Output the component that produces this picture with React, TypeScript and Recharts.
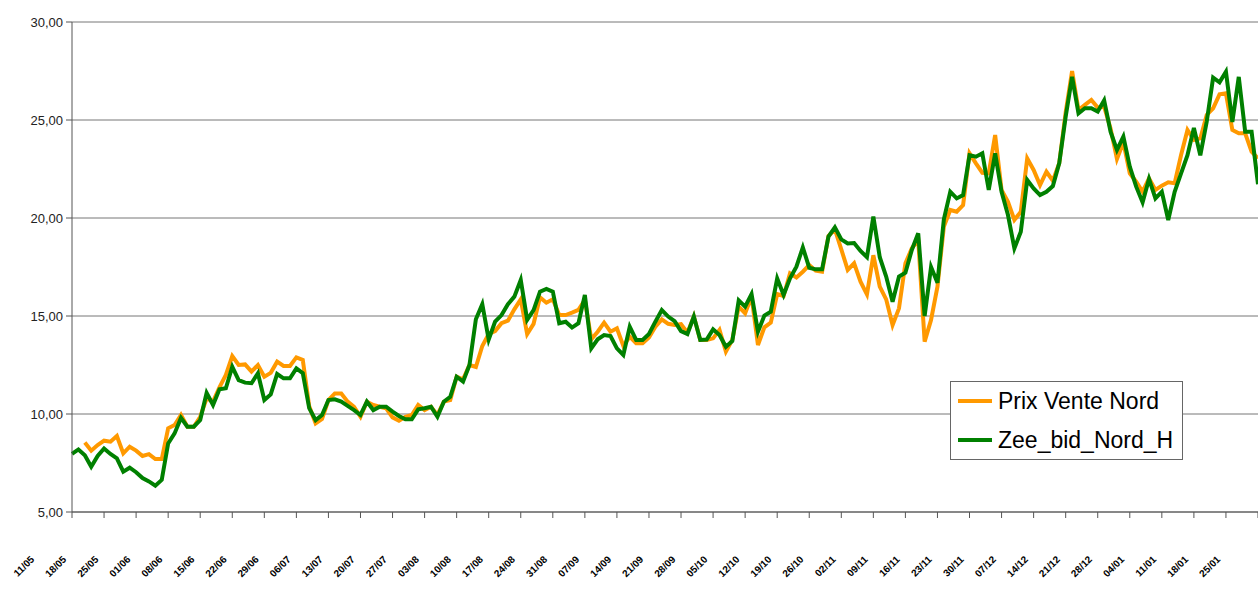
import { CartesianGrid, Legend, Line, LineChart, XAxis, YAxis } from "recharts";

const tickLabels = [
  "11/05", "18/05", "25/05", "01/06", "08/06", "15/06", "22/06", "29/06",
  "06/07", "13/07", "20/07", "27/07", "03/08", "10/08", "17/08", "24/08",
  "31/08", "07/09", "14/09", "21/09", "28/09", "05/10", "12/10", "19/10",
  "26/10", "02/11", "09/11", "16/11", "23/11", "30/11", "07/12", "14/12",
  "21/12", "28/12", "04/01", "11/01", "18/01", "25/01",
];

const yTicks = [5, 10, 15, 20, 25, 30];

// daily values, one per trading day
const prixVenteNord = [
  null, null, 8.54, 8.13, 8.42, 8.64, 8.59, 8.88, 7.99, 8.33,
  8.13, 7.86, 7.95, 7.7, 7.7, 9.27, 9.44, 9.95, 9.35, 9.35,
  9.86, 10.8, 10.63, 11.36, 11.99, 12.96, 12.5, 12.53, 12.16, 12.5,
  11.9, 12.1, 12.67, 12.45, 12.45, 12.89, 12.76, 10.4, 9.52, 9.75,
  10.71, 11.05, 11.05, 10.63, 10.37, 9.86, 10.63, 10.46, 10.37, 10.29,
  9.83, 9.66, 9.86, 9.95, 10.46, 10.2, 10.37, 9.95, 10.63, 10.71,
  11.9, 11.77, 12.5, 12.4, 13.47, 14.08, 14.23, 14.63, 14.76, 15.34,
  15.85, 14.08, 14.6, 15.95, 15.68, 15.85, 15.05, 15.05, 15.17, 15.31,
  15.82, 13.81, 14.2, 14.66, 14.2, 14.37, 13.47, 13.95, 13.61, 13.61,
  13.91, 14.45, 14.83, 14.6, 14.54, 14.59, 14.15, 14.97, 13.78, 13.78,
  13.86, 14.29, 13.18, 13.78, 15.48, 15.14, 15.99, 13.52, 14.42, 14.66,
  16.12, 16.02, 17.18, 16.97, 17.26, 17.6, 17.31, 17.26, 19.08, 19.42,
  18.4, 17.35, 17.69, 16.75, 16.1, 18.1, 16.5, 15.85, 14.54, 15.39,
  17.69, 18.45, 18.88, 13.69, 14.8, 16.5, 19.56, 20.41, 20.32, 20.66,
  23.3, 22.79, 22.31, 22.28, 24.23, 21.43, 20.83, 19.9, 20.32, 23.04,
  22.45, 21.68, 22.36, 21.9, 22.8, 25.39, 27.5, 25.51, 25.77, 26.02,
  25.63, 25.68, 24.57, 23.01, 23.86, 22.28, 21.85, 21.34, 22.02, 21.43,
  21.65, 21.82, 21.77, 23.21, 24.49, 23.98, 24.06, 25.26, 25.6, 26.31,
  26.36, 24.49, 24.32, 24.32, 23.38, 23.04,
];

const zeeBidNordH = [
  7.96, 8.19, 7.9, 7.31, 7.86, 8.24, 7.96, 7.74, 7.06, 7.26,
  7.03, 6.73, 6.56, 6.34, 6.64, 8.5, 9.01, 9.8, 9.35, 9.35,
  9.69, 11.08, 10.46, 11.26, 11.31, 12.41, 11.73, 11.6, 11.57, 12.08,
  10.71, 11.0, 12.04, 11.82, 11.82, 12.33, 12.08, 10.3, 9.69, 9.95,
  10.71, 10.75, 10.63, 10.41, 10.2, 9.95, 10.63, 10.2, 10.37, 10.37,
  10.12, 9.9, 9.73, 9.73, 10.24, 10.29, 10.37, 9.86, 10.63, 10.88,
  11.9, 11.65, 12.5, 14.83, 15.6, 13.8, 14.71, 15.05, 15.6, 15.99,
  16.84, 14.8, 15.3, 16.24, 16.38, 16.24, 14.63, 14.71, 14.41, 14.63,
  16.07, 13.35, 13.81, 14.03, 13.98, 13.35, 13.01, 14.45, 13.78, 13.78,
  14.08, 14.71, 15.3, 14.97, 14.74, 14.23, 14.08, 14.97, 13.78, 13.8,
  14.32, 14.03, 13.43, 13.72, 15.8, 15.48, 16.12, 14.2, 15.02, 15.22,
  16.92, 16.07, 16.92, 17.52, 18.5, 17.46, 17.38, 17.38, 19.05, 19.52,
  18.91, 18.7, 18.72, 18.32, 18.0, 20.07, 18.0, 17.01, 15.73, 17.01,
  17.21, 18.37, 19.22, 15.0, 17.5, 16.7, 19.93, 21.34, 21.0, 21.17,
  23.21, 23.13, 23.3, 21.43, 23.3, 21.34, 20.15, 18.45, 19.3, 21.94,
  21.51, 21.17, 21.34, 21.63, 22.8, 25.17, 27.2, 25.34, 25.6, 25.6,
  25.43, 26.0, 24.4, 23.47, 24.15, 22.62, 21.6, 20.8, 21.99, 21.0,
  21.34, 19.9, 21.34, 22.28, 23.21, 24.6, 23.2, 24.91, 27.16, 26.92,
  27.46, 24.9, 27.2, 24.4, 24.4, 21.72,
];

const data = zeeBidNordH.map((zee, i) => ({
  i,
  prix: prixVenteNord[i],
  zee,
}));

const ORANGE = "#ff9900";
const GREEN = "#008000";
const FONT = "'Liberation Sans', Arial, sans-serif";

function DateTick({ x, y, payload }: any) {
  const label = tickLabels[Math.round(payload.value / 5)];
  const tx = x - 37;
  const ty = y + 40;
  return (
    <text
      x={tx}
      y={ty}
      textAnchor="end"
      transform={`rotate(-45, ${tx}, ${ty})`}
      fontSize={10}
      fontWeight="bold"
      fontFamily={FONT}
      fill="#000"
    >
      {label}
    </text>
  );
}

function LegendBox() {
  return (
    <svg width={233} height={79} style={{ display: "block" }}>
      <rect x={0.5} y={0.5} width={232} height={78} fill="#fff" stroke="#666" />
      <line x1={8} x2={42} y1={20} y2={20} stroke={ORANGE} strokeWidth={4} />
      <text x={48} y={28} fontSize={23} fontFamily={FONT} fill="#000">
        Prix Vente Nord
      </text>
      <line x1={8} x2={42} y1={59} y2={59} stroke={GREEN} strokeWidth={4} />
      <text x={48} y={67} fontSize={23} fontFamily={FONT} fill="#000">
        Zee_bid_Nord_H
      </text>
    </svg>
  );
}

export default function App() {
  return (
    <div style={{ position: "absolute", left: 0, top: 0 }}>
      <LineChart
        width={1258}
        height={592}
        data={data}
        margin={{ top: 22, right: 0, bottom: 0, left: 0 }}
      >
        <CartesianGrid vertical={false} stroke="#777" />
        <XAxis
          type="number"
          dataKey="i"
          domain={[0, zeeBidNordH.length - 1]}
          ticks={tickLabels.map((_, k) => k * 5)}
          interval={0}
          height={80}
          tickSize={6}
          stroke="#555"
          tick={<DateTick />}
        />
        <YAxis
          domain={[5, 30]}
          ticks={yTicks}
          width={72}
          tickSize={6}
          tickMargin={3}
          stroke="#555"
          tick={{ fill: "#222", fontSize: 13, fontFamily: FONT }}
          tickFormatter={(v: number) => v.toFixed(2).replace(".", ",")}
        />
        <Legend
          layout="vertical"
          align="center"
          verticalAlign="middle"
          wrapperStyle={{ left: 950, top: 381, width: 233, height: 79 }}
          content={() => <LegendBox />}
        />
        <Line
          type="linear"
          dataKey="prix"
          stroke={ORANGE}
          strokeWidth={4}
          dot={false}
          isAnimationActive={false}
        />
        <Line
          type="linear"
          dataKey="zee"
          stroke={GREEN}
          strokeWidth={4}
          dot={false}
          isAnimationActive={false}
        />
      </LineChart>
    </div>
  );
}
